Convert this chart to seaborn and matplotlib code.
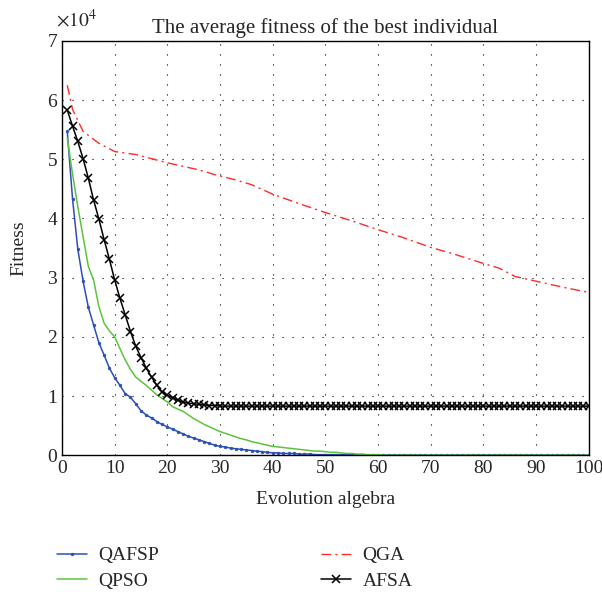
import numpy as np
import pandas as pd
import matplotlib
matplotlib.use('Agg')
import matplotlib.pyplot as plt
import seaborn as sns

sns.set_style('white')
plt.rcParams['font.family'] = ['Liberation Serif', 'DejaVu Serif']
plt.rcParams['mathtext.fontset'] = 'stix'

# generations 1..100
gen = list(range(1, 101))

# values in units of 1e4
qafsp = [5.47, 4.33, 3.48, 2.94, 2.50, 2.20, 1.90, 1.69, 1.47, 1.31,
         1.18, 1.04, 0.98, 0.87, 0.75, 0.68, 0.63, 0.57, 0.52, 0.48,
         0.44, 0.40, 0.36, 0.32, 0.29, 0.26, 0.23, 0.20, 0.17, 0.15,
         0.14, 0.12, 0.11, 0.10, 0.09, 0.08, 0.07, 0.06, 0.05, 0.04,
         0.04, 0.03, 0.03, 0.03, 0.02, 0.02, 0.02, 0.01, 0.01, 0.01,
         0.01, 0.01, 0.01, 0.01, 0.01, 0.00, 0.00, 0.00, 0.00, 0.00,
         0.00, 0.00, 0.00, 0.00, 0.00, 0.00, 0.00, 0.00, 0.00, 0.00,
         0.00, 0.00, 0.00, 0.00, 0.00, 0.00, 0.00, 0.00, 0.00, 0.00,
         0.00, 0.00, 0.00, 0.00, 0.00, 0.00, 0.00, 0.00, 0.00, 0.00,
         0.00, 0.00, 0.00, 0.00, 0.00, 0.00, 0.00, 0.00, 0.00, 0.00]

qpso = [5.36, 4.75, 4.20, 3.69, 3.19, 2.96, 2.51, 2.23, 2.10, 2.00,
        1.80, 1.61, 1.45, 1.32, 1.25, 1.18, 1.10, 1.02, 0.96, 0.90,
        0.82, 0.78, 0.74, 0.68, 0.62, 0.57, 0.52, 0.48, 0.44, 0.40,
        0.37, 0.34, 0.31, 0.28, 0.26, 0.23, 0.21, 0.19, 0.17, 0.15,
        0.14, 0.13, 0.12, 0.11, 0.10, 0.09, 0.08, 0.07, 0.07, 0.06,
        0.05, 0.05, 0.04, 0.03, 0.03, 0.02, 0.02, 0.01, 0.01, 0.01,
        0.00, 0.00, 0.00, 0.00, 0.00, 0.00, 0.00, 0.00, 0.00, 0.00,
        0.00, 0.00, 0.00, 0.00, 0.00, 0.00, 0.00, 0.00, 0.00, 0.00,
        0.00, 0.00, 0.00, 0.00, 0.00, 0.00, 0.00, 0.00, 0.00, 0.00,
        0.00, 0.00, 0.00, 0.00, 0.00, 0.00, 0.00, 0.00, 0.00, 0.00]

afsa = [5.83, 5.56, 5.30, 5.01, 4.68, 4.31, 3.99, 3.64, 3.31, 2.96,
        2.65, 2.37, 2.09, 1.84, 1.65, 1.47, 1.32, 1.18, 1.07, 1.01,
        0.97, 0.93, 0.90, 0.88, 0.87, 0.86, 0.85, 0.84, 0.84, 0.83,
        0.83, 0.83, 0.83, 0.83, 0.83, 0.83, 0.83, 0.83, 0.83, 0.83,
        0.83, 0.83, 0.83, 0.83, 0.83, 0.83, 0.83, 0.83, 0.83, 0.83,
        0.83, 0.83, 0.83, 0.83, 0.83, 0.83, 0.83, 0.83, 0.83, 0.83,
        0.83, 0.83, 0.83, 0.83, 0.83, 0.83, 0.83, 0.83, 0.83, 0.83,
        0.83, 0.83, 0.83, 0.83, 0.83, 0.83, 0.83, 0.83, 0.83, 0.83,
        0.83, 0.83, 0.83, 0.83, 0.83, 0.83, 0.83, 0.83, 0.83, 0.83,
        0.83, 0.83, 0.83, 0.83, 0.83, 0.83, 0.83, 0.83, 0.83, 0.83]

qga_gen = [1, 2, 4, 7, 10, 14, 20, 26, 29, 33, 36, 40, 45, 50, 55,
           60, 65, 70, 74, 80, 83, 86, 90, 95, 100]
qga = [6.25, 5.84, 5.47, 5.27, 5.13, 5.08, 4.94, 4.82, 4.74, 4.65, 4.57,
       4.41, 4.25, 4.10, 3.96, 3.81, 3.67, 3.51, 3.41, 3.24, 3.16, 3.02,
       2.94, 2.84, 2.75]

df = pd.DataFrame({'gen': gen, 'QAFSP': qafsp, 'QPSO': qpso, 'AFSA': afsa})
df_qga = pd.DataFrame({'gen': qga_gen, 'QGA': qga})

fig = plt.figure(figsize=(6.02, 5.92), dpi=100)
ax = fig.add_axes([0.103, 0.231, 0.875, 0.700])

sns.lineplot(data=df, x='gen', y='QAFSP', ax=ax, color='#2b4fb5', lw=1.1,
             marker='.', markersize=4, markeredgecolor='#2b4fb5',
             markeredgewidth=0.4, label='QAFSP')
sns.lineplot(data=df, x='gen', y='QPSO', ax=ax, color='#5cc43c', lw=1.1,
             label='QPSO')
sns.lineplot(data=df_qga, x='gen', y='QGA', ax=ax, color='#ff2a2a', lw=1.0,
             linestyle=(0, (7, 3, 1.5, 3)), label='QGA')
sns.lineplot(data=df, x='gen', y='AFSA', ax=ax, color='black', lw=1.1,
             marker='x', markersize=5.5, markeredgecolor='black',
             markeredgewidth=1.1, label='AFSA')

ax.set_xlim(0, 100)
ax.set_ylim(0, 7)
ax.set_xticks(range(0, 101, 10))
ax.set_yticks(range(0, 8))
ax.text(-0.012, 1.025, r'$\times10^4$', transform=ax.transAxes,
        fontsize=14, ha='left', va='bottom')

ax.grid(True, color='black', linestyle=(0, (1, 8)), linewidth=0.8)
ax.tick_params(direction='in', labelsize=14, length=4, top=False, right=False)
for s in ax.spines.values():
    s.set_visible(True)
    s.set_color('black')
    s.set_linewidth(1.0)

ax.set_title('The average fitness of the best individual', fontsize=15, pad=6)
ax.set_xlabel('Evolution algebra', fontsize=14, labelpad=10)
ax.set_ylabel('Fitness', fontsize=14, labelpad=14)

ax.get_legend().remove()
h, l = ax.get_legend_handles_labels()
fig.legend(h, l, ncol=2, loc='upper left', bbox_to_anchor=(0.065, 0.106),
           frameon=False, fontsize=14, handlelength=1.55, columnspacing=8.3,
           labelspacing=0.4, handletextpad=0.6)

fig.savefig('out.png', dpi=100)
